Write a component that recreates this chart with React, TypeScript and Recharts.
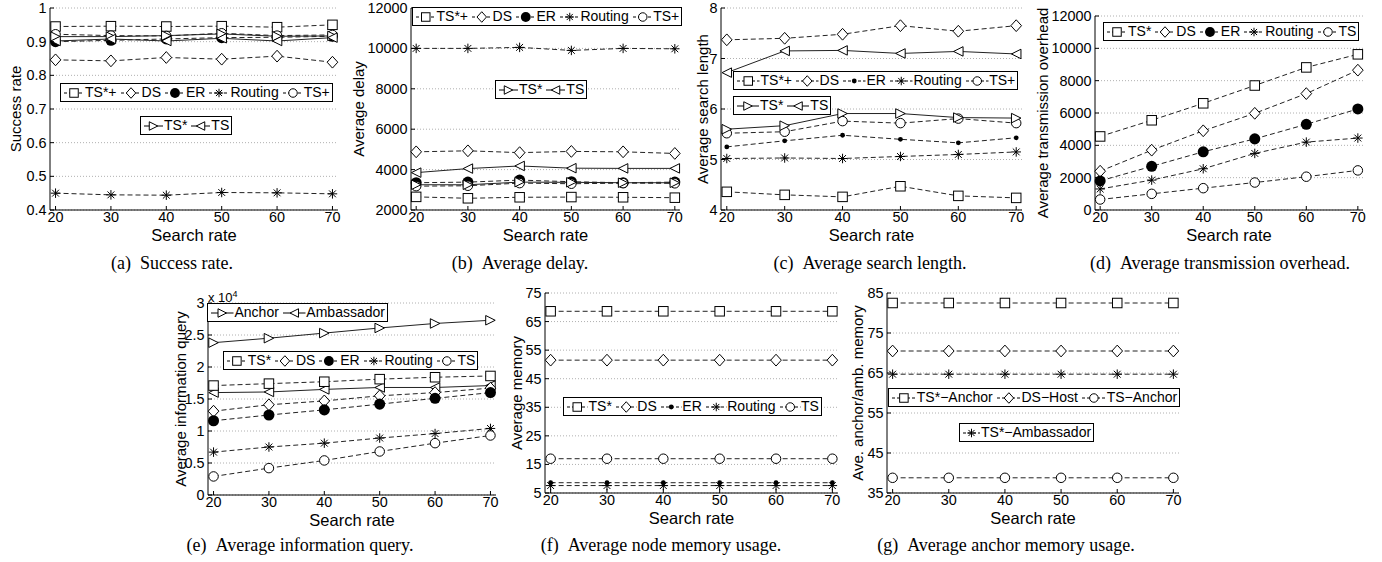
import React from 'react'
import { LineChart, Line, XAxis, YAxis, CartesianGrid } from 'recharts'

const searchRates = [20, 30, 40, 50, 60, 70]

// (a) success rate
const successTicks = [0.4, 0.5, 0.6, 0.7, 0.8, 0.9, 1]
const successTSStarPlus = [0.945, 0.946, 0.945, 0.946, 0.943, 0.95]
const successDS = [0.846, 0.843, 0.853, 0.848, 0.857, 0.839]
const successER = [0.9, 0.904, 0.908, 0.912, 0.913, 0.916]
const successRouting = [0.45, 0.445, 0.444, 0.452, 0.451, 0.448]
const successTSPlus = [0.922, 0.918, 0.917, 0.925, 0.918, 0.92]
const successTSStar = [0.915, 0.915, 0.918, 0.923, 0.916, 0.917]
const successTS = [0.902, 0.908, 0.902, 0.91, 0.902, 0.912]

// (b) average delay
const delayTicks = [2000, 4000, 6000, 8000, 10000, 12000]
const delayTSStarPlus = [2650, 2580, 2630, 2640, 2630, 2610]
const delayDS = [4880, 4930, 4840, 4900, 4880, 4800]
const delayER = [3350, 3380, 3480, 3400, 3350, 3380]
const delayRouting = [10000, 10000, 10050, 9900, 10000, 9980]
const delayTSPlus = [3180, 3200, 3330, 3300, 3330, 3320]
const delayTSStar = [3250, 3250, 3380, 3370, 3350, 3350]
const delayTS = [3850, 4050, 4180, 4070, 4060, 4060]

// (c) average search length
const lengthTicks = [4, 5, 6, 7, 8]
const lengthTSStarPlus = [4.36, 4.3, 4.26, 4.47, 4.28, 4.24]
const lengthDS = [7.37, 7.4, 7.48, 7.65, 7.54, 7.65]
const lengthER = [5.25, 5.37, 5.48, 5.4, 5.33, 5.43]
const lengthRouting = [5.02, 5.03, 5.02, 5.06, 5.1, 5.15]
const lengthTSPlus = [5.52, 5.55, 5.76, 5.72, 5.81, 5.72]
const lengthTSStar = [5.6, 5.67, 5.91, 5.91, 5.83, 5.82]
const lengthTS = [6.72, 7.15, 7.16, 7.1, 7.14, 7.09]

// (d) average transmission overhead
const overheadTicks = [0, 2000, 4000, 6000, 8000, 10000, 12000]
const overheadTSStar = [4550, 5550, 6600, 7700, 8820, 9630]
const overheadDS = [2400, 3700, 4900, 5980, 7200, 8650]
const overheadER = [1800, 2700, 3600, 4400, 5300, 6250]
const overheadRouting = [1300, 1850, 2550, 3500, 4200, 4450]
const overheadTS = [650, 1000, 1350, 1700, 2060, 2450]

// (e) average information query (x 10^4)
const queryTicks = [0, 0.5, 1, 1.5, 2, 2.5, 3]
const queryAnchor = [2.38, 2.45, 2.53, 2.61, 2.68, 2.73]
const queryAmbassador = [1.6, 1.61, 1.65, 1.68, 1.68, 1.71]
const queryTSStar = [1.71, 1.74, 1.77, 1.81, 1.84, 1.86]
const queryDS = [1.31, 1.41, 1.47, 1.55, 1.6, 1.67]
const queryER = [1.16, 1.25, 1.33, 1.42, 1.51, 1.6]
const queryRouting = [0.67, 0.75, 0.81, 0.89, 0.96, 1.04]
const queryTS = [0.29, 0.42, 0.54, 0.68, 0.81, 0.93]

// (f) average node memory
const memoryTicks = [5, 15, 25, 35, 45, 55, 65, 75]
const memoryTSStar = [68.6, 68.6, 68.6, 68.6, 68.6, 68.6]
const memoryDS = [51.5, 51.5, 51.5, 51.5, 51.5, 51.5]
const memoryER = [8.6, 8.6, 8.6, 8.6, 8.6, 8.6]
const memoryRouting = [7.6, 7.6, 7.6, 7.6, 7.6, 7.6]
const memoryTS = [17, 17, 17, 17, 17, 17]

// (g) average anchor memory
const anchorTicks = [35, 45, 55, 65, 75, 85]
const anchorTSStarAnchor = [82.5, 82.5, 82.5, 82.5, 82.5, 82.5]
const anchorDSHost = [70.5, 70.5, 70.5, 70.5, 70.5, 70.5]
const anchorTSAnchor = [38.8, 38.8, 38.8, 38.8, 38.8, 38.8]
const anchorTSStarAmbassador = [64.7, 64.7, 64.7, 64.7, 64.7, 64.7]

type Shape = 'square' | 'diamond' | 'dot' | 'smalldot' | 'star' | 'circle' | 'tright' | 'tleft'

interface Series {
  name: string
  values: number[]
  shape: Shape
  dashed: boolean
}

const FONT = '"Liberation Sans", Arial, sans-serif'
const SERIF = '"Liberation Serif", "Times New Roman", serif'

const markerEl = (shape: Shape, cx: number, cy: number, s: number, key?: string) => {
  const st = { stroke: '#000', strokeWidth: 1 }
  const r = s / 2
  switch (shape) {
    case 'square':
      return <rect key={key} x={cx - r} y={cy - r} width={s} height={s} fill="#fff" {...st} />
    case 'diamond': {
      const w = s * 0.56
      const h = s * 0.62
      return <polygon key={key} points={`${cx},${cy - h} ${cx + w},${cy} ${cx},${cy + h} ${cx - w},${cy}`} fill="#fff" {...st} />
    }
    case 'circle':
      return <circle key={key} cx={cx} cy={cy} r={r} fill="#fff" {...st} />
    case 'dot':
      return <circle key={key} cx={cx} cy={cy} r={s * 0.58} fill="#000" />
    case 'smalldot':
      return <circle key={key} cx={cx} cy={cy} r={2.4} fill="#000" />
    case 'star': {
      const d = r * 0.72
      return (
        <g key={key} {...st}>
          <line x1={cx - r} x2={cx + r} y1={cy} y2={cy} />
          <line x1={cx} x2={cx} y1={cy - r} y2={cy + r} />
          <line x1={cx - d} x2={cx + d} y1={cy - d} y2={cy + d} />
          <line x1={cx - d} x2={cx + d} y1={cy + d} y2={cy - d} />
        </g>
      )
    }
    case 'tright':
      return <polygon key={key} points={`${cx + r},${cy} ${cx - r},${cy - r} ${cx - r},${cy + r}`} fill="#fff" {...st} />
    case 'tleft':
      return <polygon key={key} points={`${cx - r},${cy} ${cx + r},${cy - r} ${cx + r},${cy + r}`} fill="#fff" {...st} />
  }
  return null
}

const successSeries: Series[] = [
  { name: 'TS*+', values: successTSStarPlus, shape: 'square', dashed: true },
  { name: 'DS', values: successDS, shape: 'diamond', dashed: true },
  { name: 'ER', values: successER, shape: 'dot', dashed: true },
  { name: 'Routing', values: successRouting, shape: 'star', dashed: true },
  { name: 'TS+', values: successTSPlus, shape: 'circle', dashed: true },
  { name: 'TS*', values: successTSStar, shape: 'tright', dashed: false },
  { name: 'TS', values: successTS, shape: 'tleft', dashed: false },
]

const delaySeries: Series[] = [
  { name: 'TS*+', values: delayTSStarPlus, shape: 'square', dashed: true },
  { name: 'DS', values: delayDS, shape: 'diamond', dashed: true },
  { name: 'ER', values: delayER, shape: 'dot', dashed: true },
  { name: 'Routing', values: delayRouting, shape: 'star', dashed: true },
  { name: 'TS+', values: delayTSPlus, shape: 'circle', dashed: true },
  { name: 'TS*', values: delayTSStar, shape: 'tright', dashed: false },
  { name: 'TS', values: delayTS, shape: 'tleft', dashed: false },
]

const lengthSeries: Series[] = [
  { name: 'TS*+', values: lengthTSStarPlus, shape: 'square', dashed: true },
  { name: 'DS', values: lengthDS, shape: 'diamond', dashed: true },
  { name: 'ER', values: lengthER, shape: 'smalldot', dashed: true },
  { name: 'Routing', values: lengthRouting, shape: 'star', dashed: true },
  { name: 'TS+', values: lengthTSPlus, shape: 'circle', dashed: true },
  { name: 'TS*', values: lengthTSStar, shape: 'tright', dashed: false },
  { name: 'TS', values: lengthTS, shape: 'tleft', dashed: false },
]

const overheadSeries: Series[] = [
  { name: 'TS*', values: overheadTSStar, shape: 'square', dashed: true },
  { name: 'DS', values: overheadDS, shape: 'diamond', dashed: true },
  { name: 'ER', values: overheadER, shape: 'dot', dashed: true },
  { name: 'Routing', values: overheadRouting, shape: 'star', dashed: true },
  { name: 'TS', values: overheadTS, shape: 'circle', dashed: true },
]

const querySeries: Series[] = [
  { name: 'Anchor', values: queryAnchor, shape: 'tright', dashed: false },
  { name: 'Ambassador', values: queryAmbassador, shape: 'tleft', dashed: false },
  { name: 'TS*', values: queryTSStar, shape: 'square', dashed: true },
  { name: 'DS', values: queryDS, shape: 'diamond', dashed: true },
  { name: 'ER', values: queryER, shape: 'dot', dashed: true },
  { name: 'Routing', values: queryRouting, shape: 'star', dashed: true },
  { name: 'TS', values: queryTS, shape: 'circle', dashed: true },
]

const memorySeries: Series[] = [
  { name: 'TS*', values: memoryTSStar, shape: 'square', dashed: true },
  { name: 'DS', values: memoryDS, shape: 'diamond', dashed: true },
  { name: 'ER', values: memoryER, shape: 'smalldot', dashed: true },
  { name: 'Routing', values: memoryRouting, shape: 'star', dashed: true },
  { name: 'TS', values: memoryTS, shape: 'circle', dashed: true },
]

const anchorSeries: Series[] = [
  { name: 'TS*\u2212Anchor', values: anchorTSStarAnchor, shape: 'square', dashed: true },
  { name: 'DS\u2212Host', values: anchorDSHost, shape: 'diamond', dashed: true },
  { name: 'TS\u2212Anchor', values: anchorTSAnchor, shape: 'circle', dashed: true },
  { name: 'TS*\u2212Ambassador', values: anchorTSStarAmbassador, shape: 'star', dashed: true },
]

interface LegendSpec { left: number; top: number; sw: number; from: number; to: number }

interface PanelSpec {
  left: number
  top: number
  width: number
  height: number
  domain: [number, number]
  ticks: number[]
  series: Series[]
  yLabel: string
  yLabelX: number
  caption: string
  captionX: number
  captionY: number
  legends: LegendSpec[]
}

const panels: PanelSpec[] = [
  {
    left: 50, top: 8, width: 288, height: 202, domain: [0.4, 1], ticks: successTicks, series: successSeries,
    yLabel: 'Success rate', yLabelX: 15, caption: '(a)\u2002Success rate.', captionX: 172, captionY: 263,
    legends: [{ left: 60, top: 83, sw: 22, from: 0, to: 5 }, { left: 140, top: 116, sw: 21, from: 5, to: 7 }],
  },
  {
    left: 411, top: 8, width: 269, height: 202, domain: [2000, 12000], ticks: delayTicks, series: delaySeries,
    yLabel: 'Average delay', yLabelX: 358, caption: '(b)\u2002Average delay.', captionX: 520, captionY: 263,
    legends: [{ left: 412, top: 7, sw: 21.5, from: 0, to: 5 }, { left: 495, top: 80, sw: 21, from: 5, to: 7 }],
  },
  {
    left: 721, top: 8, width: 301, height: 202, domain: [4, 8], ticks: lengthTicks, series: lengthSeries,
    yLabel: 'Average search length', yLabelX: 702, caption: '(c)\u2002Average search length.', captionX: 870, captionY: 263,
    legends: [{ left: 733, top: 71, sw: 24.5, from: 0, to: 5 }, { left: 733, top: 96, sw: 24, from: 5, to: 7 }],
  },
  {
    left: 1095, top: 16, width: 268, height: 194, domain: [0, 12000], ticks: overheadTicks, series: overheadSeries,
    yLabel: 'Average transmission overhead', yLabelX: 1042, caption: '(d)\u2002Average transmission overhead.', captionX: 1220, captionY: 263,
    legends: [{ left: 1103, top: 22, sw: 22, from: 0, to: 5 }],
  },
  {
    left: 208, top: 303, width: 288, height: 192, domain: [0, 3], ticks: queryTicks, series: querySeries,
    yLabel: 'Average information query', yLabelX: 180, caption: '(e)\u2002Average information query.', captionX: 300, captionY: 545,
    legends: [{ left: 207, top: 303, sw: 24.5, from: 0, to: 2 }, { left: 223, top: 351, sw: 21.8, from: 2, to: 7 }],
  },
  {
    left: 545, top: 293, width: 293, height: 200, domain: [5, 75], ticks: memoryTicks, series: memorySeries,
    yLabel: 'Average memory', yLabelX: 516, caption: '(f)\u2002Average node memory usage.', captionX: 661, captionY: 545,
    legends: [{ left: 563, top: 397, sw: 22.5, from: 0, to: 5 }],
  },
  {
    left: 887, top: 293, width: 292, height: 200, domain: [35, 85], ticks: anchorTicks, series: anchorSeries,
    yLabel: 'Ave. anchor/amb. memory', yLabelX: 857, caption: '(g)\u2002Average anchor memory usage.', captionX: 1006, captionY: 545,
    legends: [{ left: 888, top: 388, sw: 25.8, from: 0, to: 3 }, { left: 959, top: 423, sw: 19, from: 3, to: 4 }],
  },
]

const XTick = (props: any) => {
  const { x, y, payload } = props
  return (
    <g>
      <line x1={x} x2={x} y1={y} y2={y - 4} stroke="#000" />
      <text x={x} y={y + 12} textAnchor="middle" fontSize={14.4} fontFamily={FONT} fill="#000">
        {payload.value}
      </text>
    </g>
  )
}

const YTick = (props: any) => {
  const { x, y, payload } = props
  return (
    <g>
      <line x1={x} x2={x + 4} y1={y} y2={y} stroke="#000" />
      <text x={x - 3.5} y={y + 5} textAnchor="end" fontSize={14.4} fontFamily={FONT} fill="#000">
        {payload.value}
      </text>
    </g>
  )
}

const LegendBox = ({ spec, series }: { spec: LegendSpec; series: Series[] }) => {
  const items = series.slice(spec.from, spec.to)
  return (
    <div
      style={{
        position: 'absolute', left: spec.left, top: spec.top, height: 17, lineHeight: '17px',
        border: '1px solid #000', background: '#fff', padding: '0 2px', display: 'flex', alignItems: 'center',
        fontFamily: FONT, fontSize: 14, whiteSpace: 'nowrap', color: '#000',
      }}
    >
      {items.map((s, i) => (
        <span key={s.name} style={{ display: 'flex', alignItems: 'center', marginRight: i < items.length - 1 ? 3 : 0 }}>
          <svg width={spec.sw} height={14} style={{ display: 'block' }}>
            <line x1={1} x2={spec.sw - 1} y1={7} y2={7} stroke="#000" strokeDasharray={s.dashed ? '3 2' : undefined} />
            {markerEl(s.shape, spec.sw / 2, 7, 8.5)}
          </svg>
          <span>{s.name}</span>
        </span>
      ))}
    </div>
  )
}

const Panel = ({ p }: { p: PanelSpec }) => {
  const ML = 60
  const MT = 12
  const MR = 12
  const XH = 30
  const rows = searchRates.map((x, i) => {
    const row: any = { x }
    p.series.forEach((s, k) => { row[`v${k}`] = s.values[i] })
    return row
  })
  return (
    <>
      <div style={{ position: 'absolute', left: p.left - ML, top: p.top - MT }}>
        <LineChart width={p.width + ML + MR} height={p.height + MT + XH} data={rows} margin={{ top: MT, right: MR, bottom: 0, left: 0 }}>
          <CartesianGrid vertical={false} stroke="#b0b0b0" strokeDasharray="1 2" />
          <XAxis dataKey="x" type="number" domain={[19, 71]} ticks={searchRates} interval={0} height={XH}
            axisLine={{ stroke: '#000' }} tickLine={false} tickSize={0} tickMargin={0} tick={<XTick />} />
          <YAxis type="number" domain={p.domain} ticks={p.ticks} interval={0} width={ML} allowDataOverflow
            axisLine={{ stroke: '#000' }} tickLine={false} tickSize={0} tickMargin={0} tick={<YTick />} />
          {p.series.map((s, k) => (
            <Line
              key={s.name}
              type="linear"
              dataKey={`v${k}`}
              stroke="#222"
              strokeWidth={1}
              strokeDasharray={s.dashed ? '5 3' : undefined}
              dot={(d: any) => markerEl(s.shape, d.cx, d.cy, 9.5, `${s.name}-${d.index}`)}
              activeDot={false}
              isAnimationActive={false}
            />
          ))}
        </LineChart>
      </div>
      {p.legends.map((l, i) => <LegendBox key={i} spec={l} series={p.series} />)}
      <div style={{ position: 'absolute', left: p.left + p.width / 2, top: p.top + p.height + 24.5, transform: 'translate(-50%, -50%)', fontFamily: FONT, fontSize: 16.5, lineHeight: '14px', whiteSpace: 'nowrap' }}>
        Search rate
      </div>
      <div style={{ position: 'absolute', left: p.yLabelX, top: p.top + p.height / 2, transform: 'translate(-50%, -50%) rotate(-90deg)', fontFamily: FONT, fontSize: 15, lineHeight: '15px', whiteSpace: 'nowrap' }}>
        {p.yLabel}
      </div>
      <div style={{ position: 'absolute', left: p.captionX, top: p.captionY, transform: 'translate(-50%, -50%)', fontFamily: SERIF, fontSize: 18, whiteSpace: 'nowrap' }}>
        {p.caption}
      </div>
    </>
  )
}

export default function App() {
  return (
    <div style={{ position: 'absolute', left: 0, top: 0, width: 1382, height: 562, background: '#fff', overflow: 'hidden', color: '#000' }}>
      {panels.map((p, i) => <Panel key={i} p={p} />)}
      <div style={{ position: 'absolute', left: 208, top: 288, fontFamily: FONT, fontSize: 13, lineHeight: '13px', whiteSpace: 'nowrap' }}>
        x 10<sup style={{ fontSize: 9 }}>4</sup>
      </div>
    </div>
  )
}
